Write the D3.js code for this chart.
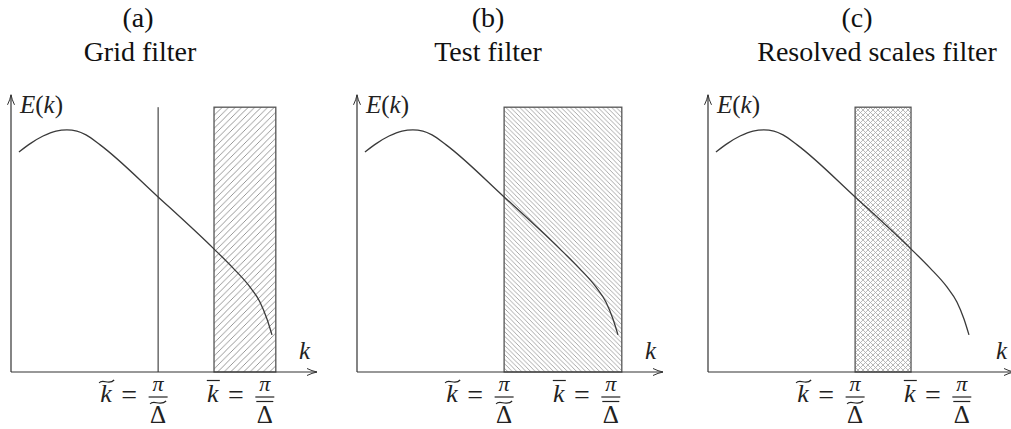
<!DOCTYPE html>
<html><head><meta charset="utf-8">
<script src="https://cdn.jsdelivr.net/npm/d3@7"></script>
<style>body{margin:0;background:#fff}svg{display:block}</style>
</head><body><svg id="chart" width="1011" height="429"></svg>
<script>
// Model energy spectrum E(k) sampled along the wavenumber axis
const kValues = [0.27, 0.68, 1.09, 1.53, 1.90, 2.24, 2.55, 3.03, 5.00, 6.87, 7.55, 8.12, 8.46, 8.70, 8.87];
const energy  = [7.48, 7.78, 8.02, 8.19, 8.23, 8.19, 8.06, 7.72, 5.95, 4.21, 3.53, 2.89, 2.38, 1.80, 1.26];

// One entry per panel
const panelLetters = ["(a)", "(b)", "(c)"];
const panelTitles  = ["Grid filter", "Test filter", "Resolved scales filter"];
const bandStart    = [6.9, 5, 5];
const bandEnd      = [9, 9, 6.9];
const bandTop      = [9, 9, 9];
const bandPattern  = ["hatch-up", "hatch-down", "hatch-cross"];
const cutoffLine   = [5, null, null];

// Cut-off wavenumbers marked on the k axis
const tickValues  = [5, 9];
const tickAccents = ["tilde", "bar"];
const tickSymbol  = "k";
const tickNumer   = "π";
const tickDenom   = "Δ";

const axisLabelX = "k";

const svg = d3.select("#chart");
const serif = "'Liberation Serif', 'Times New Roman', serif";

const defs = svg.append("defs");
// square tiles of diagonal strokes; "up" = /, "down" = \
function diag(id, dir, step, color, width) {
  const p = defs.append("pattern").attr("id", id)
    .attr("patternUnits", "userSpaceOnUse")
    .attr("width", step).attr("height", step);
  const s = step;
  const paths = [];
  if (dir === "up" || dir === "cross") paths.push(`M0,${s} L${s},0 M${-s},${s} L${s},${-s} M0,${2*s} L${2*s},0`);
  if (dir === "down" || dir === "cross") paths.push(`M0,0 L${s},${s} M${-s},0 L${s},${2*s} M0,${-s} L${2*s},${s}`);
  paths.forEach(d => p.append("path").attr("d", d).attr("stroke", color)
    .attr("stroke-width", width).attr("fill", "none"));
}
diag("hatch-up", "up", 6.5, "#8c8c8c", 0.9);
diag("hatch-down", "down", 4.6, "#999", 0.85);
diag("hatch-cross", "cross", 5, "#a8a8a8", 0.8);

// open arrow heads
defs.append("marker").attr("id", "arrow")
  .attr("viewBox", "0 0 12 10").attr("refX", 11).attr("refY", 5)
  .attr("markerWidth", 12).attr("markerHeight", 10)
  .attr("markerUnits", "userSpaceOnUse").attr("orient", "auto")
  .append("path").attr("d", "M1,1.5 Q6,4 11,5 Q6,6 1,8.5")
  .attr("fill", "none").attr("stroke", "#333").attr("stroke-width", 1);

const panelX = [11, 357, 708];
const axisY = 372;
const kMax = 10.4, eMax = 9.42;
const x = d3.scaleLinear().domain([0, kMax]).range([0, 306]);
const y = d3.scaleLinear().domain([0, eMax]).range([axisY, axisY - 306 * eMax / kMax]);

const line = d3.line().x((d, i) => x(kValues[i])).y(d => y(d)).curve(d3.curveMonotoneX);

panelLetters.forEach((letter, i) => {
  const g = svg.append("g").attr("transform", `translate(${panelX[i]},0)`);

  // filtered band
  g.append("rect")
    .attr("x", x(bandStart[i])).attr("width", x(bandEnd[i]) - x(bandStart[i]))
    .attr("y", y(bandTop[i])).attr("height", y(0) - y(bandTop[i]))
    .attr("fill", `url(#${bandPattern[i]})`)
    .attr("stroke", "#555").attr("stroke-width", 1.3);

  if (cutoffLine[i] !== null) {
    g.append("line").attr("x1", x(cutoffLine[i])).attr("x2", x(cutoffLine[i]))
      .attr("y1", y(0)).attr("y2", y(bandTop[i]))
      .attr("stroke", "#222").attr("stroke-width", 1);
  }

  // axes
  g.append("line").attr("x1", x(0)).attr("x2", x(kMax)).attr("y1", y(0)).attr("y2", y(0))
    .attr("stroke", "#333").attr("stroke-width", 1.2).attr("marker-end", "url(#arrow)");
  g.append("line").attr("x1", x(0)).attr("x2", x(0)).attr("y1", y(0)).attr("y2", y(eMax))
    .attr("stroke", "#333").attr("stroke-width", 1.2).attr("marker-end", "url(#arrow)");

  // spectrum
  g.append("path").datum(energy).attr("d", line)
    .attr("fill", "none").attr("stroke", "#3a3a3a").attr("stroke-width", 1.3);

  // axis labels
  g.append("text").attr("x", x(0) + 9).attr("y", y(eMax) + 18)
    .attr("font-family", serif).attr("font-size", 25).attr("fill", "#222")
    .html(`<tspan font-style="italic">E</tspan>(<tspan font-style="italic">k</tspan>)`);
  g.append("text").attr("x", x(kMax) - 18).attr("y", y(0) - 13)
    .attr("font-family", serif).attr("font-style", "italic").attr("font-size", 25).attr("fill", "#222")
    .text(axisLabelX);

  // cut-off labels under the k axis
  tickValues.forEach((kv, j) => {
    const cx = x(kv) - (j === 1 ? 11 : 0);
    const t = g.append("g").attr("transform", `translate(${cx},0)`);
    const col = "#222";
    // fraction  π / Δ
    t.append("text").attr("x", 0).attr("y", 391).attr("text-anchor", "middle")
      .attr("font-family", serif).attr("font-style", "italic").attr("font-size", 22).attr("fill", col)
      .text(tickNumer);
    t.append("line").attr("x1", -9.5).attr("x2", 9.5).attr("y1", 397).attr("y2", 397)
      .attr("stroke", col).attr("stroke-width", 1.2);
    t.append("text").attr("x", 0).attr("y", 423).attr("text-anchor", "middle")
      .attr("font-family", serif).attr("font-size", 25).attr("fill", col)
      .text(tickDenom);
    if (tickAccents[j] === "tilde") {
      t.append("path").attr("d", "M-8,404 C-4.5,399 2,407 8,401")
        .attr("fill", "none").attr("stroke", col).attr("stroke-width", 1.2);
    } else {
      t.append("line").attr("x1", -8.5).attr("x2", 8.5).attr("y1", 401.5).attr("y2", 401.5)
        .attr("stroke", col).attr("stroke-width", 1.2);
    }
    // "=" sign
    t.append("text").attr("x", -29).attr("y", 404).attr("text-anchor", "middle")
      .attr("font-family", serif).attr("font-size", 28).attr("fill", col).text("=");
    // k symbol with accent
    t.append("text").attr("x", -52).attr("y", 402).attr("text-anchor", "middle")
      .attr("font-family", serif).attr("font-style", "italic").attr("font-size", 26).attr("fill", col)
      .text(tickSymbol);
    if (tickAccents[j] === "tilde") {
      t.append("path").attr("d", "M-59,383 C-55.5,378 -49,386 -44,380")
        .attr("fill", "none").attr("stroke", col).attr("stroke-width", 1.2);
    } else {
      t.append("line").attr("x1", -58).attr("x2", -45).attr("y1", 380.5).attr("y2", 380.5)
        .attr("stroke", col).attr("stroke-width", 1.2);
    }
  });
});

// panel headings
const letterX = [138, 488, 857];
const titleX = [140, 488, 877];
panelLetters.forEach((letter, i) => {
  svg.append("text").attr("x", letterX[i]).attr("y", 27).attr("text-anchor", "middle")
    .attr("font-family", serif).attr("font-size", 28).attr("fill", "#111").text(letter);
  svg.append("text").attr("x", titleX[i]).attr("y", 61).attr("text-anchor", "middle")
    .attr("font-family", serif).attr("font-size", 28).attr("fill", "#111").text(panelTitles[i]);
});
</script></body></html>
